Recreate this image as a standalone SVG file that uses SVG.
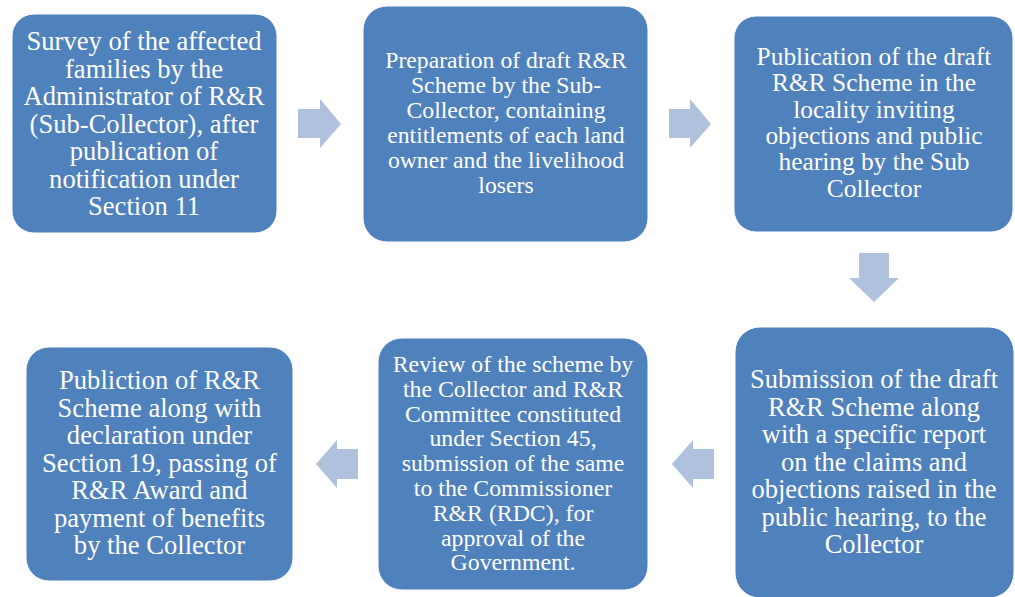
<svg xmlns="http://www.w3.org/2000/svg" width="1015" height="597" viewBox="0 0 1015 597">
<style>
.box{fill:#4F81BD;stroke:#ffffff;stroke-width:1}
.arr{fill:#B0C1DD}
text{font-family:"Liberation Serif","Times New Roman",serif;fill:#ffffff;text-anchor:middle}
</style>
<rect width="1015" height="597" fill="#ffffff"/>
<g id="connectors">
<polygon class="arr" points="298,109 320,109 320,99 341,124 320,148 320,138 298,138"/>
<polygon class="arr" points="669,109 690,109 690,99 711,124 690,148 690,138 669,138"/>
<polygon class="arr" points="859,253 889,253 889,278 899,278 874,302 849,278 859,278"/>
<polygon class="arr" points="714,449 693,449 693,440 672,464 693,488 693,479 714,479"/>
<polygon class="arr" points="358,449 337,449 337,440 316,464 337,488 337,479 358,479"/>
</g>
<g id="node1">
<rect class="box" x="12" y="14" width="265" height="219" rx="22"/>
<text font-size="26.6"><tspan x="144" y="50">Survey of the affected</tspan><tspan x="144" y="77.5">families by the</tspan><tspan x="144" y="105">Administrator of R&amp;R</tspan><tspan x="144" y="132.5">(Sub-Collector), after</tspan><tspan x="144" y="160">publication of</tspan><tspan x="144" y="187.5">notification under</tspan><tspan x="144" y="215">Section 11</tspan></text>
</g>
<g id="node2">
<rect class="box" x="363" y="6" width="285" height="236" rx="24"/>
<text font-size="23.7"><tspan x="506" y="68">Preparation of draft R&amp;R</tspan><tspan x="506" y="93">Scheme by the Sub-</tspan><tspan x="506" y="118">Collector, containing</tspan><tspan x="506" y="143">entitlements of each land</tspan><tspan x="506" y="168">owner and the livelihood</tspan><tspan x="506" y="193">losers</tspan></text>
</g>
<g id="node3">
<rect class="box" x="734" y="16" width="279" height="216" rx="22"/>
<text font-size="25.4"><tspan x="874" y="65">Publication of the draft</tspan><tspan x="874" y="91.3">R&amp;R Scheme in the</tspan><tspan x="874" y="117.6">locality inviting</tspan><tspan x="874" y="143.9">objections and public</tspan><tspan x="874" y="170.2">hearing by the Sub</tspan><tspan x="874" y="196.5">Collector</tspan></text>
</g>
<g id="node6">
<rect class="box" x="735" y="327" width="279" height="271" rx="25"/>
<text font-size="26.5"><tspan x="874" y="388">Submission of the draft</tspan><tspan x="874" y="415.5">R&amp;R Scheme along</tspan><tspan x="874" y="443">with a specific report</tspan><tspan x="874" y="470.5">on the claims and</tspan><tspan x="874" y="498">objections raised in the</tspan><tspan x="874" y="525.5">public hearing, to the</tspan><tspan x="874" y="553">Collector</tspan></text>
</g>
<g id="node5">
<rect class="box" x="378" y="338" width="270" height="252" rx="24"/>
<text font-size="23.8"><tspan x="513" y="372">Review of the scheme by</tspan><tspan x="513" y="396.8">the Collector and R&amp;R</tspan><tspan x="513" y="421.6">Committee constituted</tspan><tspan x="513" y="446.4">under Section 45,</tspan><tspan x="513" y="471.2">submission of the same</tspan><tspan x="513" y="496">to the Commissioner</tspan><tspan x="513" y="520.8">R&amp;R (RDC), for</tspan><tspan x="513" y="545.6">approval of the</tspan><tspan x="513" y="570.4">Government.</tspan></text>
</g>
<g id="node4">
<rect class="box" x="26" y="347" width="267" height="234" rx="23"/>
<text font-size="26.6"><tspan x="159.5" y="389">Publiction of R&amp;R</tspan><tspan x="159.5" y="416.5">Scheme along with</tspan><tspan x="159.5" y="444">declaration under</tspan><tspan x="159.5" y="471.5">Section 19, passing of</tspan><tspan x="159.5" y="499">R&amp;R Award and</tspan><tspan x="159.5" y="526.5">payment of benefits</tspan><tspan x="159.5" y="554">by the Collector</tspan></text>
</g>
</svg>
